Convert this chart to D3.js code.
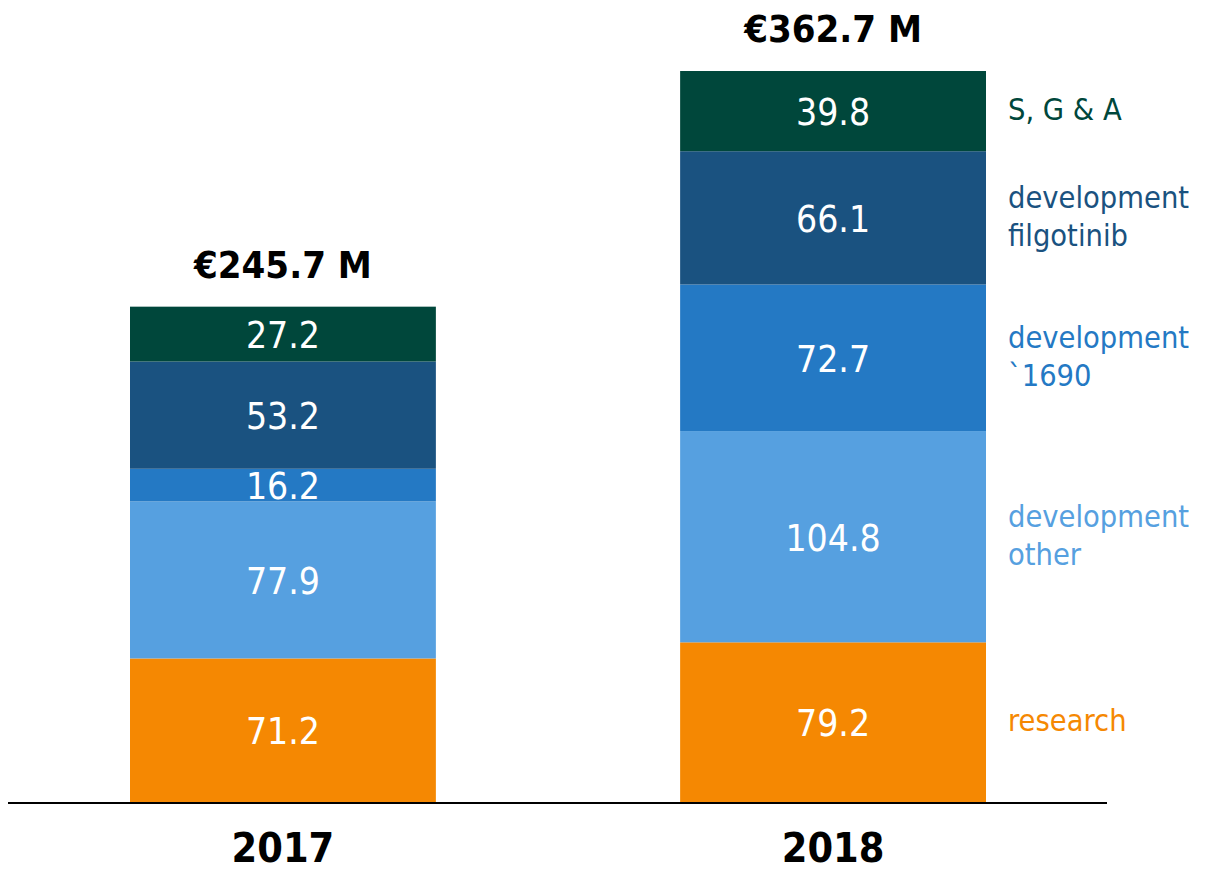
<!DOCTYPE html>
<html>
<head>
<meta charset="utf-8">
<script src="https://cdn.jsdelivr.net/npm/d3@7"></script>
<style>
  body { margin: 0; background: #fff; }
  svg { display: block; font-family: "DejaVu Sans Condensed", "DejaVu Sans", sans-serif; }
</style>
</head>
<body>
<svg id="chart" width="1208" height="872"></svg>
<script>
const years = ['2017', '2018'];
const categories = ['research', 'other', 'd1690', 'filgotinib', 'sga'];
const research = [71.2, 79.2];
const devOther = [77.9, 104.8];
const dev1690 = [16.2, 72.7];
const devFilgotinib = [53.2, 66.1];
const sga = [27.2, 39.8];
const totals = ['€245.7 M', '€362.7 M'];
const legendLabels = [
  ['research'],
  ['development', 'other'],
  ['development', '`1690'],
  ['development', 'filgotinib'],
  ['S, G & A']
];
const colors = ['#f58802', '#56a0e0', '#2479c4', '#1a5280', '#00473b'];

const series = [research, devOther, dev1690, devFilgotinib, sga];
const data = years.map((yr, i) => {
  const row = {year: yr};
  categories.forEach((c, k) => { row[c] = series[k][i]; });
  return row;
});

const svg = d3.select('#chart');
const baseY = 802;

const x = d3.scaleBand().domain(years).range([130, 986]).paddingInner(0.444).paddingOuter(0);
const y = d3.scaleLinear().domain([0, d3.sum(series, s => s[1])]).range([baseY, 71]);
const color = d3.scaleOrdinal().domain(categories).range(colors);

const stacked = d3.stack().keys(categories)(data);

const layers = svg.append('g').selectAll('g')
  .data(stacked)
  .join('g')
  .attr('fill', d => color(d.key));

layers.selectAll('rect')
  .data(d => d)
  .join('rect')
  .attr('x', d => x(d.data.year))
  .attr('width', x.bandwidth())
  .attr('y', d => y(d[1]))
  .attr('height', d => y(d[0]) - y(d[1]));

// value labels inside segments
layers.selectAll('text')
  .data(d => d.map(v => ({v, key: d.key})))
  .join('text')
  .attr('x', d => x(d.v.data.year) + x.bandwidth() / 2)
  .attr('y', d => (y(d.v[0]) + y(d.v[1])) / 2 + 14)
  .attr('text-anchor', 'middle')
  .attr('fill', '#fff')
  .style('font-size', '37px')
  .text(d => d.v.data[d.key].toFixed(1));

// totals above bars
svg.append('g').selectAll('text')
  .data(data)
  .join('text')
  .attr('x', d => x(d.year) + x.bandwidth() / 2)
  .attr('y', d => y(d3.sum(categories, c => d[c])) - 29)
  .attr('text-anchor', 'middle')
  .attr('fill', '#000')
  .style('font-size', '38px')
  .style('font-weight', 'bold')
  .text((d, i) => totals[i]);

// baseline
svg.append('line')
  .attr('x1', 8).attr('x2', 1107)
  .attr('y1', baseY + 1).attr('y2', baseY + 1)
  .attr('stroke', '#000')
  .attr('stroke-width', 2);

// year labels
svg.append('g').selectAll('text')
  .data(years)
  .join('text')
  .attr('x', d => x(d) + x.bandwidth() / 2)
  .attr('y', 862)
  .attr('text-anchor', 'middle')
  .attr('fill', '#000')
  .style('font-size', '41px')
  .style('font-weight', 'bold')
  .text(d => d);

// legend labels on the right of the 2018 bar
const last = stacked.map(s => s[s.length - 1]);
const lineH = 38;
const legend = svg.append('g').selectAll('text')
  .data(categories)
  .join('text')
  .attr('fill', d => color(d))
  .style('font-size', '30.5px')
  .attr('transform', (d, k) => {
    const mid = (y(last[k][0]) + y(last[k][1])) / 2;
    const n = legendLabels[k].length;
    const first = mid - (n - 1) * lineH / 2 + 9;
    return `translate(1008,${first})`;
  });

legend.selectAll('tspan')
  .data((d, k) => legendLabels[k])
  .join('tspan')
  .attr('x', 0)
  .attr('dy', (d, i) => i === 0 ? 0 : lineH)
  .text(d => d);
</script>
</body>
</html>
